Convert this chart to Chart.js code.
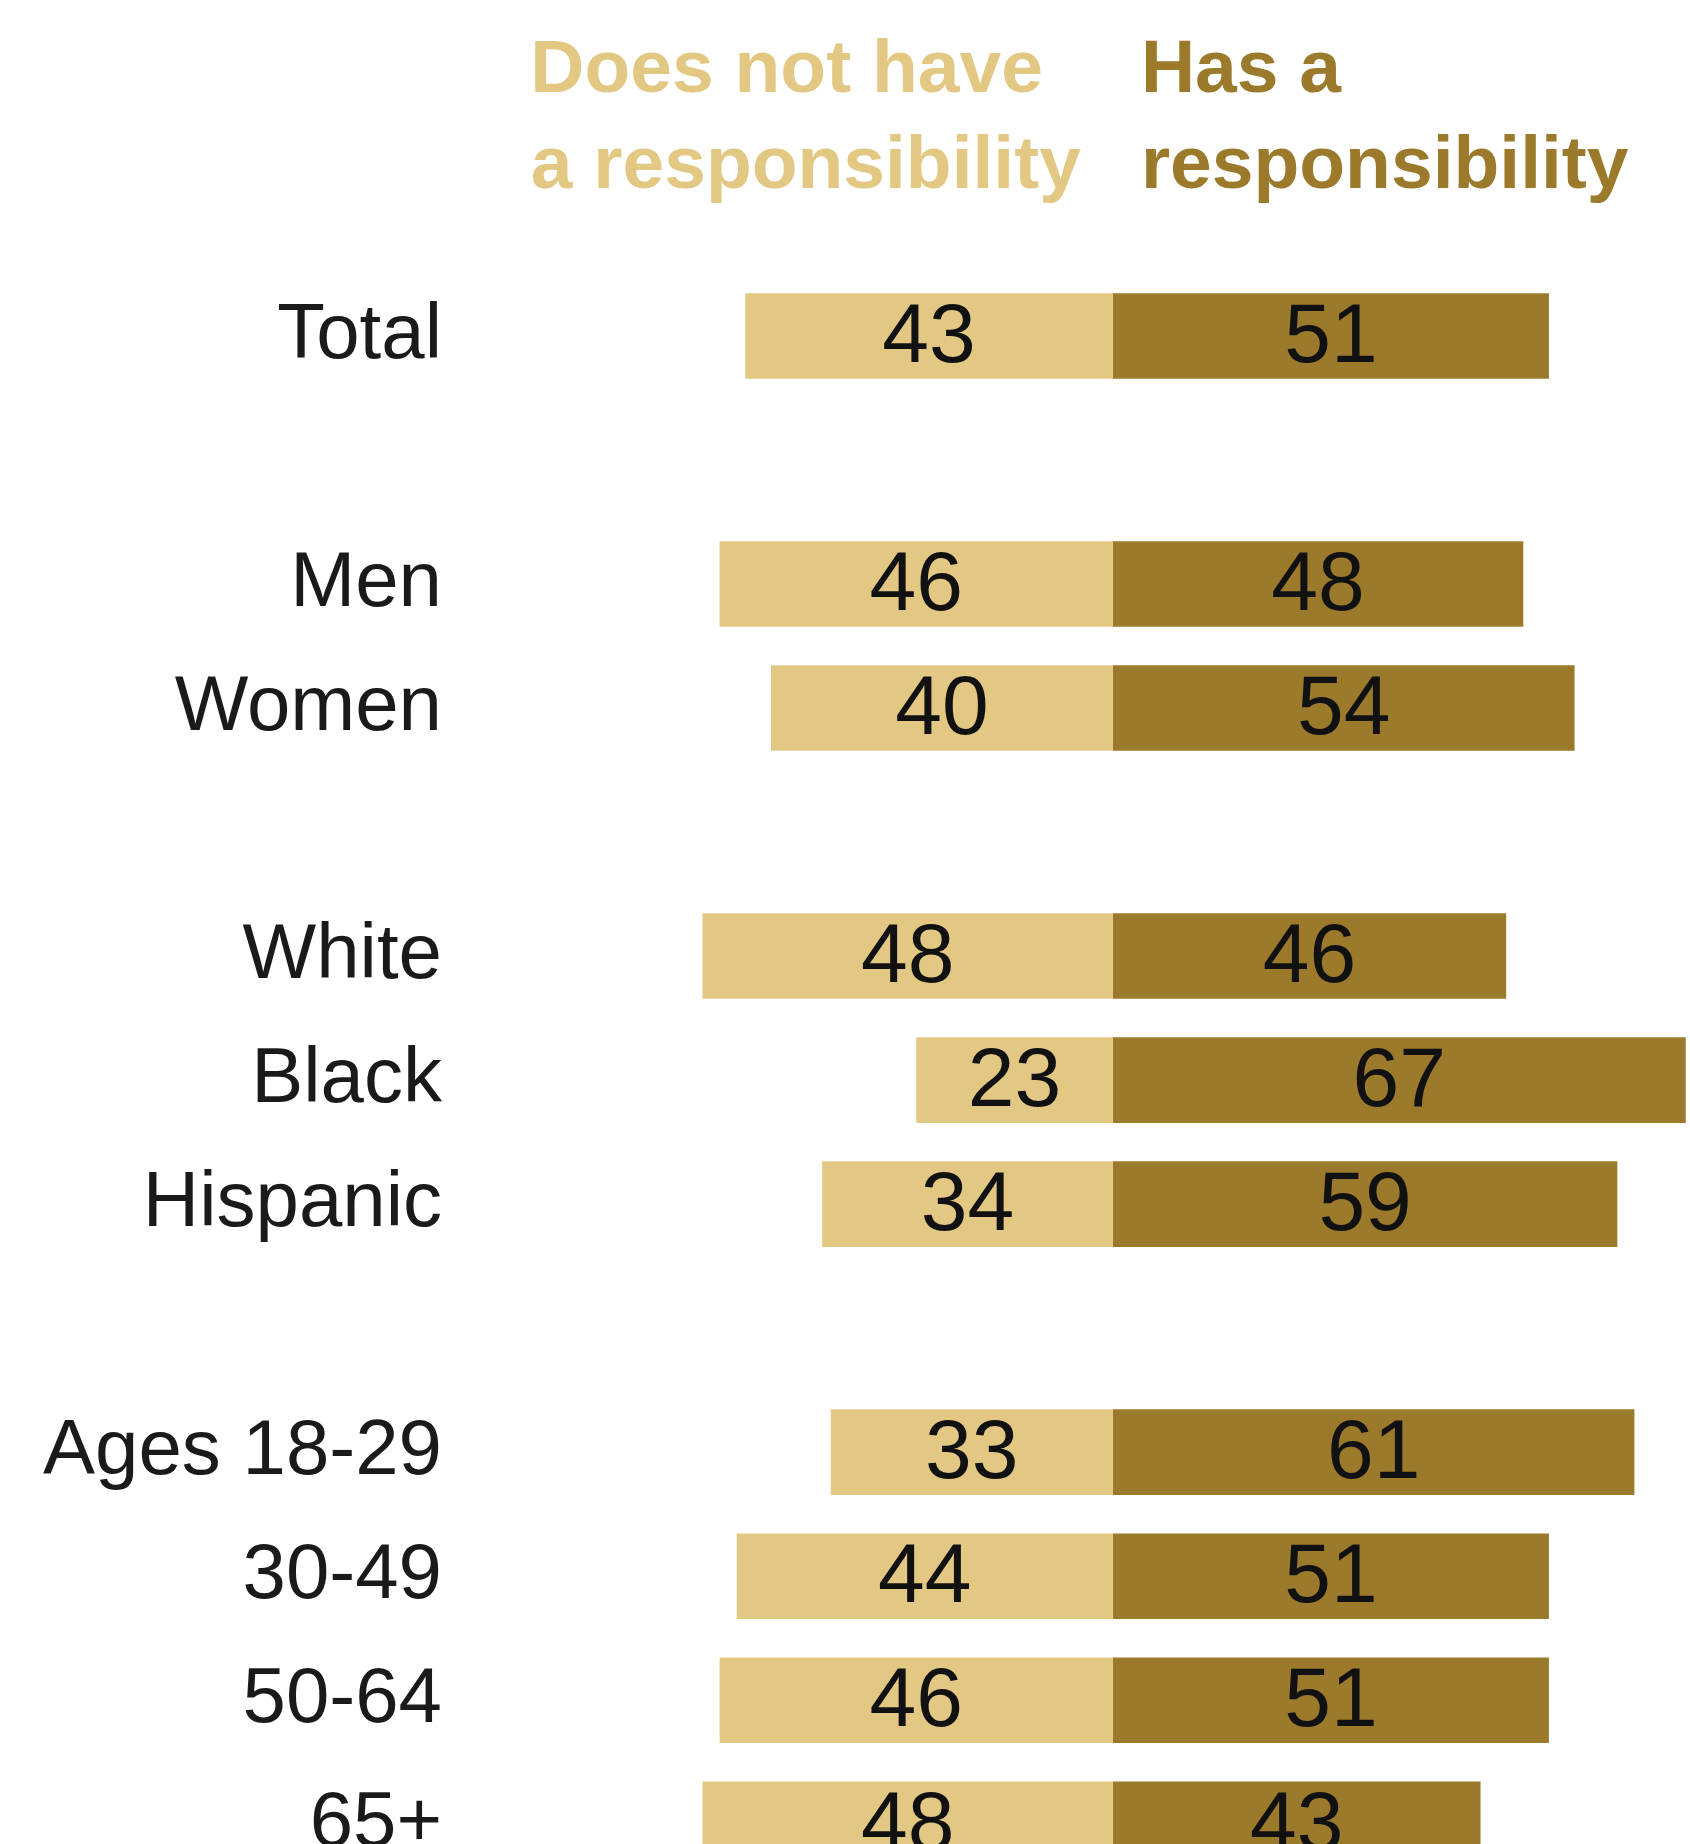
<!DOCTYPE html>
<html>
<head>
<meta charset="utf-8">
<script src="https://cdn.jsdelivr.net/npm/chart.js@4/dist/chart.umd.min.js"></script>
<style>
  html, body { margin: 0; padding: 0; background: #fff; overflow: hidden; width: 1690px; height: 1844px; }
  canvas { display: block; }
</style>
</head>
<body>
<canvas id="chart" width="1690" height="1929"></canvas>
<script>
// blank strings are the gaps between groups
const categories = ['Total', '', 'Men', 'Women', '', 'White', 'Black', 'Hispanic', '', 'Ages 18-29', '30-49', '50-64', '65+'];
const doesNotHave = [43, null, 46, 40, null, 48, 23, 34, null, 33, 44, 46, 48];
const hasResponsibility = [51, null, 48, 54, null, 46, 67, 59, null, 61, 51, 51, 43];

const lightColor = '#E2C883';
const darkColor = '#9C7A2B';

// value labels inside the bars
const barLabels = {
    id: 'barLabels',
    afterDatasetsDraw(chart) {
        const ctx = chart.ctx;
        ctx.save();
        ctx.font = '84px "Liberation Sans", Arial, sans-serif';
        ctx.fillStyle = '#111';
        ctx.textAlign = 'center';
        ctx.textBaseline = 'middle';
        chart.data.datasets.forEach((ds, i) => {
            chart.getDatasetMeta(i).data.forEach((bar, j) => {
                const v = ds.data[j];
                if (v === null) return;
                const p = bar.getProps(['x', 'y', 'base'], true);
                ctx.fillText(String(Math.abs(v)), (p.x + p.base) / 2, p.y + 3);
            });
        });
        ctx.restore();
    }
};

// column headers above the bars
const headers = {
    id: 'headers',
    afterDraw(chart) {
        const ctx = chart.ctx;
        const x0 = chart.scales.x.getPixelForValue(0);
        ctx.save();
        ctx.font = 'bold 75px "Liberation Sans", Arial, sans-serif';
        ctx.textBaseline = 'alphabetic';
        ctx.fillStyle = lightColor;
        ctx.textAlign = 'right';
        ctx.fillText('Does not have', x0 - 70, 92);
        ctx.fillText('a responsibility', x0 - 32, 188);
        ctx.fillStyle = darkColor;
        ctx.textAlign = 'left';
        ctx.fillText('Has a', x0 + 28, 92);
        ctx.fillText('responsibility', x0 + 28, 188);
        ctx.restore();
    }
};

new Chart(document.getElementById('chart'), {
    type: 'bar',
    data: {
        labels: categories,
        datasets: [
            {
                label: 'Does not have a responsibility',
                data: doesNotHave.map(v => v === null ? null : -v),
                backgroundColor: lightColor,
                barPercentage: 0.69,
                categoryPercentage: 1
            },
            {
                label: 'Has a responsibility',
                data: hasResponsibility,
                backgroundColor: darkColor,
                barPercentage: 0.69,
                categoryPercentage: 1
            }
        ]
    },
    options: {
        indexAxis: 'y',
        responsive: false,
        devicePixelRatio: 1,
        animation: false,
        layout: { padding: { top: 274, right: 0, bottom: 0, left: 0 } },
        plugins: {
            legend: { display: false },
            tooltip: { enabled: false }
        },
        scales: {
            x: {
                stacked: true,
                min: -78,
                max: 67.5,
                display: false
            },
            y: {
                stacked: true,
                grid: { display: false },
                border: { display: false },
                ticks: {
                    color: '#1a1a1a',
                    padding: -4,
                    font: { family: '"Liberation Sans", Arial, sans-serif', size: 78 }
                },
                afterFit(scale) { scale.width = 446; }
            }
        }
    },
    plugins: [barLabels, headers]
});
</script>
</body>
</html>
